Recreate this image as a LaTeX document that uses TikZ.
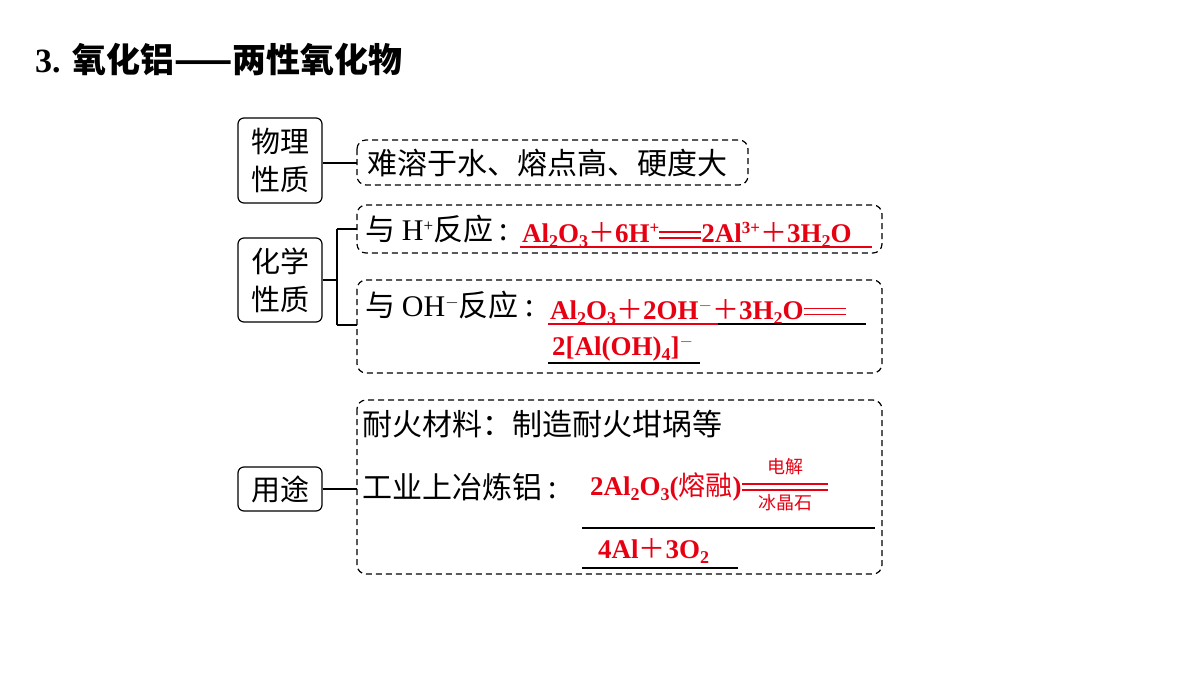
\documentclass[tikz,border=0pt]{standalone}
\usepackage{fontspec}
\setmainfont{Liberation Serif}
\newfontfamily\cjk{Noto Sans CJK SC}
\usetikzlibrary{positioning}
\definecolor{eqred}{RGB}{230,0,18}
\tikzset{
  topic/.style={draw,rounded corners=6pt,line width=1.2pt,minimum width=84pt,align=center,font=\fontsize{29}{38}\selectfont\cjk,inner sep=2pt},
  group/.style={draw,dash pattern=on 6pt off 4pt,rounded corners=9pt,line width=1.2pt},
  txt/.style={anchor=west,font=\fontsize{30}{34}\selectfont\cjk,inner sep=0pt},
  eq/.style={anchor=west,text=eqred,font=\fontsize{27}{30}\selectfont\bfseries,inner sep=0pt},
  uline/.style={line width=1.2pt}
}
\newcommand{\hanz}[1]{{\cjk\mdseries #1}}
\newcommand{\lo}[1]{\raisebox{-5pt}{\fontsize{18}{18}\selectfont #1}}
\newcommand{\hi}[1]{\raisebox{9pt}{\fontsize{17}{17}\selectfont #1}}
\newcommand{\eqbar}[1]{\raisebox{4pt}{\rule{#1}{1.5pt}}\llap{\raisebox{10pt}{\rule{#1}{1.5pt}}}}
\begin{document}
\begin{tikzpicture}[x=1pt,y=-1pt]
\useasboundingbox (0,0) rectangle (1200,675);
\node[anchor=west,font=\fontsize{34}{38}\selectfont\bfseries,inner sep=0pt] (title) at (35,60) {3. {\cjk 氧化铝——两性氧化物}};
% left topics
\node[topic,minimum height=85pt] (phys) at (280,160.5) {物理\\性质};
\node[topic,minimum height=84pt] (chem) at (280,280) {化学\\性质};
\node[topic,minimum height=44pt] (use) at (280,489) {用途};
% dashed groups
\draw[group] (357,140) rectangle (748,185);
\draw[group] (357,205) rectangle (882,253);
\draw[group] (357,280) rectangle (882,373);
\draw[group] (357,400) rectangle (882,574);
\coordinate (pin) at (357,163);
\coordinate (hin) at (357,229);
\coordinate (oin) at (357,325);
\coordinate (uin) at (357,489);
\coordinate (fork) at (337,280);
\draw[uline] (phys.east |- pin) -- (pin);
\draw[uline] (chem.east |- fork) -- (fork);
\draw[uline] (fork |- hin) -- (fork |- oin);
\draw[uline] (fork |- hin) -- (hin);
\draw[uline] (fork |- oin) -- (oin);
\draw[uline] (use.east |- uin) -- (uin);
% texts
\node[txt] (ptext) at (367,163) {难溶于水、熔点高、硬度大};
\node[txt] (htext) at (365,229) {与 {\rmfamily H\hi{+}}反应 :};
\node[eq] (heq) at (522,235) {Al\lo{2}O\lo{3}\hanz{＋}6H\hi{+}\eqbar{42pt}2Al\hi{3+}\hanz{＋}3H\lo{2}O};
\draw[uline,eqred] (520,247) -- (872,247);
\node[txt] (otext) at (365,305) {与 {\rmfamily OH\hi{$-$}}反应 :};
\node[eq] (oeq) at (550,312) {Al\lo{2}O\lo{3}\hanz{＋}2OH\hi{$-$}\hanz{＋}3H\lo{2}O\eqbar{42pt}};
\draw[uline,eqred] (548,324) -- (718,324);
\draw[uline] (718,324) -- (866,324);
\node[eq] (oeq2) at (552,349) {2[Al(OH)\lo{4}]\hi{$-$}};
\draw[uline] (548,363) -- (700,363);
\node[txt] (ftext) at (362,424) {耐火材料：制造耐火坩埚等};
\node[txt] (itext) at (362,487) {工业上冶炼铝 :};
\node[eq] (ieq) at (590,487) {2Al\lo{2}O\lo{3}(\hanz{熔融})};
\draw[eqred,line width=1.5pt] (ieq.east) ++(0,-3) -- ++(86,0) ++(0,6) -- ++(-86,0);
\node[eqred,font=\fontsize{18}{20}\selectfont\cjk,inner sep=0pt] (cond1) at (785,467) {电解};
\node[eqred,font=\fontsize{18}{20}\selectfont\cjk,inner sep=0pt] (cond2) at (785,503) {冰晶石};
\draw[uline] (582,528) -- (875,528);
\node[eq] (ieq2) at (598,551) {4Al\hanz{＋}3O\lo{2}};
\draw[uline] (582,568) -- (738,568);
\end{tikzpicture}
\end{document}
